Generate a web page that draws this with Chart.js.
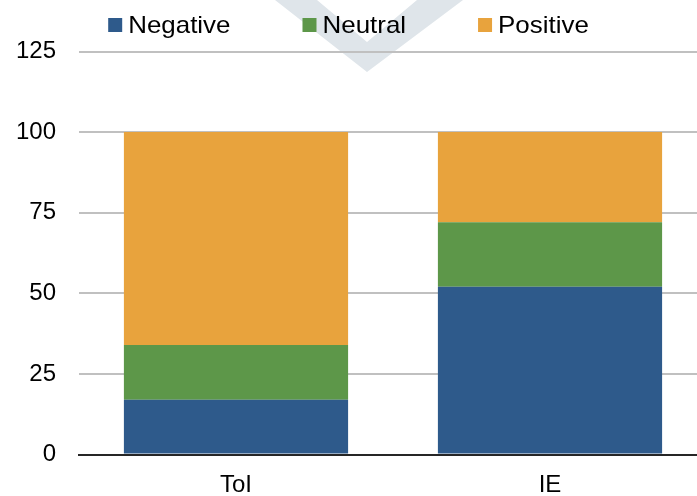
<!DOCTYPE html>
<html>
<head>
<meta charset="utf-8">
<script src="https://cdn.jsdelivr.net/npm/chart.js@4/dist/chart.umd.min.js"></script>
<style>
  html, body { margin: 0; padding: 0; background: #fff; overflow: hidden; }
  #wrap { width: 707px; height: 496px; position: relative; }
</style>
</head>
<body>
<div id="wrap"><canvas id="c"></canvas></div>
<script>
const categories = ['ToI', 'IE'];
const negative = [17, 52];
const neutral = [17, 20];
const positive = [66, 28];
const yTicks = [0, 25, 50, 75, 100, 125];

const FONT = '"Liberation Sans", Arial, sans-serif';
const FONT_SIZE = 24;
const VISIBLE_WIDTH = 697;

// faint chevron logo behind the chart
const watermark = {
  id: 'watermark',
  beforeDraw(chart) {
    const ctx = chart.ctx;
    ctx.save();
    ctx.fillStyle = '#dfe5ea';
    ctx.beginPath();
    ctx.moveTo(275, 0);
    ctx.lineTo(317, 0);
    ctx.lineTo(367, 42);
    ctx.lineTo(417, 0);
    ctx.lineTo(463, 0);
    ctx.lineTo(367, 72);
    ctx.closePath();
    ctx.fill();
    ctx.restore();
  }
};

// compact legend row: square swatch close to its label, slightly wide lettering
const topLegend = {
  id: 'topLegend',
  afterDraw(chart) {
    const ctx = chart.ctx;
    ctx.save();
    const sx = 1.08;
    ctx.font = '24px ' + FONT;
    ctx.textBaseline = 'middle';
    const box = 14, gapText = 6, gapItem = 72, y = 25;
    const items = chart.data.datasets.map(ds => ({
      label: ds.label, color: ds.backgroundColor,
      tw: ctx.measureText(ds.label).width * sx
    }));
    items.forEach(it => { it.w = box + gapText + it.tw; });
    const total = items.reduce((s, it) => s + it.w, 0) + gapItem * (items.length - 1);
    let x = VISIBLE_WIDTH / 2 - total / 2;
    items.forEach(it => {
      ctx.fillStyle = it.color;
      ctx.fillRect(x, y - box / 2, box, box);
      ctx.fillStyle = '#000';
      ctx.save();
      ctx.translate(x + box + gapText, y + 1);
      ctx.scale(sx, 1);
      ctx.fillText(it.label, 0, 0);
      ctx.restore();
      x += it.w + gapItem;
    });
    ctx.restore();
  }
};

new Chart(document.getElementById('c'), {
  type: 'bar',
  data: {
    labels: categories,
    datasets: [
      { label: 'Negative', data: negative, backgroundColor: '#2e5a8b', borderWidth: 0 },
      { label: 'Neutral', data: neutral, backgroundColor: '#5d9749', borderWidth: 0 },
      { label: 'Positive', data: positive, backgroundColor: '#e8a33d', borderWidth: 0 }
    ]
  },
  options: {
    responsive: true,
    maintainAspectRatio: false,
    animation: false,
    layout: { padding: { top: 51.5, left: 0, right: 0, bottom: 0 } },
    datasets: { bar: { barPercentage: 0.714, categoryPercentage: 1.0 } },
    plugins: {
      legend: { display: false },
      tooltip: { enabled: false }
    },
    scales: {
      x: {
        stacked: true,
        grid: { display: false, drawTicks: false },
        border: { display: true, color: '#262626', width: 2 },
        ticks: { color: '#000', font: { family: FONT, size: FONT_SIZE }, padding: 16 },
        afterFit(scale) { scale.height = 41.5; }
      },
      y: {
        stacked: true,
        min: 0, max: 125,
        afterBuildTicks(scale) { scale.ticks = yTicks.map(v => ({ value: v })); },
        grid: {
          drawTicks: false,
          color: ctx => ctx.tick && ctx.tick.value === 0 ? 'rgba(0,0,0,0)' : '#c0c0c0',
          lineWidth: 2
        },
        border: { display: false },
        ticks: { color: '#000', font: { family: FONT, size: FONT_SIZE }, padding: 23 },
        afterFit(scale) { scale.width = 79; }
      }
    }
  },
  plugins: [watermark, topLegend]
});
</script>
</body>
</html>
